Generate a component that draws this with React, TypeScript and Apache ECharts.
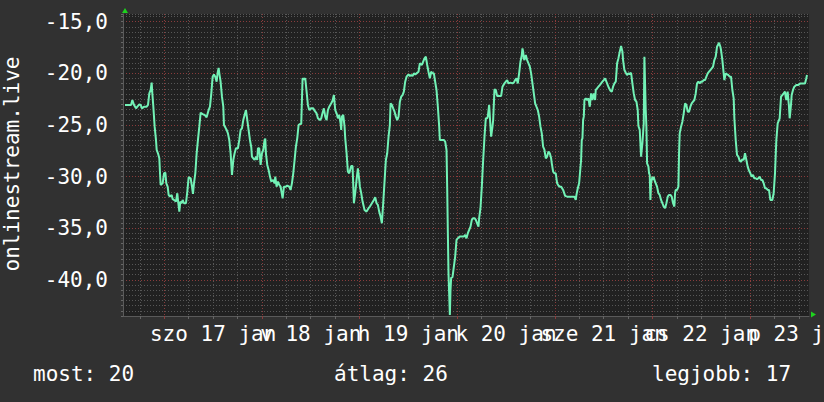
import React, { useEffect, useRef } from 'react';
import * as echarts from 'echarts';

// x = hours since 2015-01-17 00:00, y = level
const readings: [number, number][] = [
  [-9.67,-23.06],[-8.19,-23.06],[-7.86,-22.58],[-7.45,-23.06],[-6.96,-23.39],[-6.63,-23.23],[-6.14,-23.0],[-5.82,-23.06],[-5.49,-23.39],[-5.0,-23.23],[-4.34,-23.23],[-4.01,-23.06],[-3.69,-21.94],[-3.36,-21.61],[-3.11,-20.9],[-2.95,-21.94],[-2.7,-23.23],[-2.38,-25.16],[-2.05,-26.45],[-1.88,-27.42],[-1.56,-27.74],[-1.23,-28.23],[-1.06,-29.68],[-0.9,-30.81],[-0.41,-30.65],[-0.08,-29.68],[0.25,-29.61],[0.49,-30.65],[0.82,-30.97],[1.06,-31.77],[1.39,-31.94],[1.8,-31.77],[2.05,-32.19],[2.38,-32.26],[2.87,-32.42],[3.19,-31.61],[3.44,-32.58],[3.69,-33.39],[3.93,-32.42],[4.26,-32.58],[4.51,-32.26],[4.83,-32.58],[5.32,-32.58],[5.65,-31.45],[5.98,-30.06],[6.47,-30.16],[6.8,-30.97],[7.04,-31.68],[7.29,-30.65],[7.62,-29.68],[7.95,-27.74],[8.27,-26.45],[8.6,-25.16],[8.93,-23.81],[9.42,-23.94],[9.91,-24.03],[10.4,-24.26],[10.89,-23.55],[11.22,-23.23],[11.55,-21.94],[11.88,-20.32],[12.2,-20.1],[12.53,-20.32],[12.86,-20.81],[13.11,-19.94],[13.35,-19.48],[13.52,-20.0],[13.84,-20.81],[14.17,-22.26],[14.5,-23.23],[14.66,-25.0],[14.99,-25.23],[15.32,-25.48],[15.64,-25.81],[15.97,-26.45],[16.3,-27.74],[16.63,-29.84],[16.96,-28.39],[17.28,-27.74],[17.61,-27.26],[18.1,-27.26],[18.43,-26.45],[18.76,-25.48],[19.09,-25.32],[19.41,-24.52],[19.74,-24.03],[20.07,-23.55],[20.4,-24.52],[20.72,-25.48],[21.05,-26.45],[21.38,-27.16],[21.54,-28.06],[21.87,-28.23],[22.2,-28.39],[22.53,-28.06],[22.85,-28.39],[23.02,-27.26],[23.34,-27.26],[23.67,-28.87],[24.0,-27.74],[24.33,-27.42],[24.65,-26.45],[24.82,-26.32],[24.98,-27.74],[25.31,-28.87],[25.64,-29.35],[25.97,-30.0],[26.29,-30.48],[26.78,-30.32],[27.11,-30.65],[27.28,-30.0],[27.6,-30.97],[27.93,-30.48],[28.26,-30.81],[28.59,-30.97],[29.08,-32.1],[29.41,-30.97],[29.9,-30.97],[30.22,-30.87],[30.72,-30.97],[31.04,-31.29],[31.37,-30.65],[31.7,-29.68],[32.03,-28.39],[32.35,-27.1],[32.68,-26.29],[33.01,-25.0],[33.34,-24.9],[33.66,-24.9],[33.99,-20.48],[34.32,-20.58],[34.65,-20.48],[34.98,-21.77],[35.3,-23.06],[35.63,-23.55],[36.12,-23.39],[36.61,-23.39],[36.94,-23.61],[37.43,-23.87],[37.76,-24.35],[38.25,-24.52],[38.58,-24.35],[38.91,-23.81],[39.23,-23.39],[39.56,-24.19],[39.89,-24.52],[40.22,-23.55],[40.55,-23.23],[41.04,-22.9],[41.36,-22.65],[41.69,-22.1],[42.02,-23.55],[42.35,-23.87],[42.68,-24.35],[43.0,-24.03],[43.33,-24.84],[43.49,-25.48],[43.66,-24.19],[43.99,-24.03],[44.31,-25.16],[44.48,-26.29],[44.81,-27.74],[45.13,-29.52],[45.46,-29.68],
  [45.95,-28.97],[46.28,-28.97],[46.61,-32.58],[46.93,-31.61],[47.26,-30.32],[47.59,-29.19],[47.92,-30.32],[48.08,-30.97],[48.41,-31.61],[48.74,-32.42],[49.23,-33.23],[49.72,-33.39],[50.21,-33.06],[50.54,-32.9],[51.03,-32.58],[51.52,-32.26],[51.85,-32.0],[52.18,-32.58],[52.5,-32.74],[52.83,-33.39],[53.16,-33.87],[53.49,-34.52],[53.81,-32.58],[54.14,-30.48],[54.47,-28.39],[54.8,-27.74],[55.13,-26.13],[55.45,-25.0],[55.62,-22.9],[55.94,-23.06],[56.27,-23.39],[56.6,-23.71],[56.93,-24.19],[57.26,-24.52],[57.58,-24.19],[57.91,-22.74],[58.24,-22.26],[58.57,-22.1],[58.89,-21.77],[59.22,-20.81],[59.55,-20.32],[60.04,-20.1],[60.37,-20.26],[60.7,-20.16],[61.02,-20.26],[61.35,-20.0],[61.68,-20.1],[62.01,-20.0],[62.5,-19.84],[62.82,-19.03],[63.32,-19.19],[63.64,-18.87],[63.97,-18.55],[64.3,-18.39],[64.63,-19.19],[64.95,-19.84],[65.28,-20.48],[65.61,-19.84],[65.94,-20.0],[66.27,-20.0],[66.59,-20.81],[66.92,-21.61],[67.25,-23.23],[67.58,-25.16],[67.74,-26.45],[68.23,-26.45],[68.72,-26.45],[69.05,-26.61],[69.38,-27.42],[69.54,-30.97],[69.71,-35.48],[69.87,-39.42],[70.03,-41.29],[70.2,-43.39],[70.36,-40.97],[70.52,-39.81],[70.85,-39.74],[71.18,-38.74],[71.51,-37.74],[71.84,-36.13],[72.16,-35.97],[72.65,-35.81],[73.15,-35.81],[73.64,-35.81],[73.96,-35.65],[74.29,-35.97],[74.62,-35.48],[74.95,-35.16],[75.28,-34.84],[75.6,-34.19],[75.93,-34.03],[76.26,-34.03],[76.59,-34.19],[76.91,-34.52],[77.24,-34.84],[77.4,-34.03],[77.73,-33.06],[78.06,-30.97],[78.39,-28.39],[78.72,-26.13],[79.04,-24.35],[79.37,-24.35],[79.53,-24.19],[79.86,-23.06],[80.19,-25.16],[80.35,-26.13],[80.68,-25.16],[80.85,-24.52],[81.17,-21.55],[81.5,-21.61],[81.83,-22.19],[82.32,-22.19],[82.81,-22.19],[83.14,-21.29],[83.63,-20.97],[83.96,-20.81],[84.29,-20.65],[84.61,-20.97],[85.1,-20.9],[85.6,-20.97],[85.92,-20.9],[86.25,-20.65],[86.58,-20.48],[86.91,-20.97],[87.23,-20.0],[87.56,-18.87],[87.89,-18.23],[88.05,-17.58],[88.22,-17.9],[88.38,-18.55],[88.54,-18.71],[88.87,-18.23],[89.2,-18.71],[89.53,-19.03],[89.86,-19.35],[90.18,-20.0],[90.51,-20.97],[90.84,-21.94],[91.17,-22.9],[91.49,-23.23],[91.82,-23.55],[92.15,-24.19],[92.48,-25.16],[92.8,-25.81],[93.13,-27.1],[93.46,-27.42],[93.79,-28.23],[94.11,-28.06],[94.44,-27.58],[94.77,-27.74],[95.1,-28.23],[95.26,-28.71],[95.59,-29.52],[95.92,-29.68],[96.24,-29.68],[96.57,-30.65],[96.9,-30.87],[97.23,-30.97],[97.55,-30.97],[98.05,-31.29],[98.54,-31.87],[99.03,-31.94],[99.68,-31.94],[100.34,-31.94],[100.83,-31.94],[101.16,-32.26],[101.32,-31.77],[101.65,-31.13],[101.98,-30.65],
  [102.47,-28.39],[102.63,-26.45],[102.8,-26.29],[102.96,-24.52],[103.13,-24.19],[103.29,-22.58],[103.62,-22.42],[103.95,-22.58],[104.27,-22.42],[104.6,-23.23],[104.93,-21.94],[105.25,-22.58],[105.58,-21.94],[105.91,-22.58],[106.07,-21.61],[106.4,-21.45],[106.73,-21.29],[107.06,-21.13],[107.38,-20.97],[107.71,-20.81],[108.04,-20.65],[108.37,-20.48],[108.69,-20.81],[109.02,-21.13],[109.35,-21.45],[109.68,-21.68],[110.01,-21.77],[110.33,-21.29],[110.66,-20.97],[110.99,-20.81],[111.15,-20.0],[111.32,-19.03],[111.64,-18.55],[111.97,-17.9],[112.3,-17.35],[112.63,-17.9],[112.79,-18.71],[113.12,-19.68],[113.45,-19.94],[113.77,-20.16],[114.1,-20.0],[114.43,-20.06],[114.76,-19.94],[115.08,-20.97],[115.41,-21.94],[115.74,-22.58],[116.07,-22.74],[116.39,-23.55],[116.56,-25.1],[116.89,-25.48],[117.05,-26.77],[117.21,-28.06],[117.38,-28.06],[117.54,-26.77],[117.87,-24.84],[118.03,-18.39],[118.2,-18.39],[118.36,-23.55],[118.52,-25.16],[118.69,-28.71],[119.02,-29.03],[119.18,-29.68],[119.34,-29.84],[119.51,-32.26],[119.67,-30.65],[120.0,-30.0],[120.16,-30.32],[120.33,-30.0],[120.49,-30.32],[120.82,-30.65],[121.14,-30.97],[121.47,-31.61],[121.8,-31.77],[122.13,-32.26],[122.46,-32.58],[122.78,-32.9],[123.11,-33.06],[123.44,-32.58],[123.77,-31.94],[124.09,-31.77],[124.42,-31.77],[124.75,-31.94],[125.08,-32.58],[125.4,-32.9],[125.57,-31.61],[125.73,-31.29],[126.06,-31.29],[126.39,-30.97],[126.55,-27.74],[126.71,-25.81],[127.04,-25.16],[127.37,-24.68],[127.7,-23.87],[128.03,-22.9],[128.35,-23.06],[128.68,-23.71],[129.01,-23.71],[129.34,-23.23],[129.66,-22.9],[129.99,-22.74],[130.32,-22.58],[130.65,-21.94],[130.97,-20.97],[131.3,-20.81],[131.63,-20.97],[131.96,-20.81],[132.28,-20.81],[132.61,-20.65],[132.94,-20.65],[133.27,-20.32],[133.6,-20.0],[133.92,-19.84],[134.25,-19.68],[134.58,-19.52],[134.91,-19.35],[135.23,-18.71],[135.56,-18.39],[135.89,-17.42],[136.38,-17.03],[136.71,-17.42],[136.87,-17.74],[137.2,-18.71],[137.36,-19.35],[137.69,-20.65],[138.02,-20.0],[138.35,-20.1],[138.67,-20.16],[139.0,-20.32],[139.33,-20.32],[139.66,-21.61],[139.98,-22.42],[140.15,-24.35],[140.48,-26.45],[140.8,-27.9],[141.13,-28.06],[141.46,-28.45],[141.79,-28.55],[142.11,-28.32],[142.44,-28.39],[142.77,-27.74],[143.1,-28.39],[143.42,-29.03],[143.75,-29.42],[144.08,-29.68],[144.41,-30.0],[144.74,-29.84],[145.06,-30.16],[145.39,-30.16],[145.72,-30.26],[146.05,-30.16],[146.37,-30.0],[146.7,-30.32],[147.03,-30.32],[147.36,-30.65],[147.68,-31.13],[148.01,-31.13],[148.34,-31.29],[148.67,-31.29],[148.99,-32.26],[149.49,-32.26],[149.81,-31.61],[150.14,-29.68],[150.47,-26.45],[150.8,-24.84],[151.29,-24.35],[151.62,-22.26],[151.94,-22.1],[152.27,-21.94],[152.6,-21.77],[152.76,-22.26],[152.93,-22.58],[153.25,-21.77],[153.58,-23.23],[153.75,-24.35],[153.91,-24.35],[154.07,-23.06],[154.24,-22.1],[154.57,-21.61],[154.89,-21.29],[155.38,-21.13],[155.88,-21.13],[156.37,-20.97],[156.7,-20.97],[157.02,-20.97],[157.52,-20.97],[157.84,-20.48],[158.01,-20.16]
];

const dayLabels = ['szo 17 jan', 'v 18 jan', 'h 19 jan', 'k 20 jan', 'sze 21 jan', 'cs 22 jan', 'p 23 jan'];
const labelHours = [12, 36, 60, 84, 108, 132, 156];
const midnightHours = [0, 24, 48, 72, 96, 120, 144];
const sixHourMarks = [-6, 6, 12, 18, 30, 36, 42, 54, 60, 66, 78, 84, 90, 102, 108, 114, 126, 132, 138, 150, 156];
const majorYTicks = [-40, -35, -30, -25, -20, -15];
const yTitle = 'onlinestream.live';
const summaryLabels = ['most: 20', 'átlag: 26', 'legjobb: 17'];

const X_MIN = -10.16;
const X_MAX = 158.5;
const Y_MIN = -43.5;
const Y_MAX = -14.25;

const FONT = "'DejaVu Sans Mono', monospace";
const TEXT = '#ffffff';
const MINOR = '#575757';
const MAJOR = '#8a3c3c';
const LINE = '#72f2b6';
const ARROW = '#1ed21e';

// labels split over two axes (alternate days) so the library does not drop overlapping ones
const evenDayHours = labelHours.filter((_, i) => i % 2 === 0);
const oddDayHours = labelHours.filter((_, i) => i % 2 === 1);
const dayLabelFor = (v: number) => {
  const i = labelHours.findIndex((h) => Math.abs(h - v) < 1e-6);
  return i >= 0 ? dayLabels[i] : '';
};

export default function App() {
  const ref = useRef<HTMLDivElement>(null);
  useEffect(() => {
    if (!ref.current) return;
    const chart = echarts.init(ref.current, undefined, { renderer: 'svg' });
    const summaryX = [33, 334, 652];
    const xLabel = (values: number[]) => ({
      show: true, customValues: values, color: TEXT, fontSize: 21, fontFamily: FONT, margin: 7,
      showMinLabel: true, showMaxLabel: true, hideOverlap: false, formatter: dayLabelFor,
    });
    chart.setOption({
      animation: false,
      backgroundColor: '#313131',
      textStyle: { fontFamily: FONT },
      grid: {
        left: 123, top: 14, width: 686, height: 302, show: true, backgroundColor: '#212121', borderWidth: 0,
        containLabel: false, outerBoundsMode: 'none',
      },
      xAxis: [
        {
          type: 'value', min: X_MIN, max: X_MAX, position: 'bottom',
          axisLine: { show: true, onZero: false, lineStyle: { color: '#5a5a5a', width: 1 } },
          axisTick: { show: true, customValues: sixHourMarks, length: 3, lineStyle: { color: '#666' } },
          axisLabel: xLabel(evenDayHours),
          splitLine: { show: true, lineStyle: { color: MINOR, width: 1, type: [1, 2] } },
        },
        {
          type: 'value', min: X_MIN, max: X_MAX, position: 'bottom', offset: 0,
          axisLine: { show: false, onZero: false },
          axisTick: { show: true, customValues: midnightHours, length: 3, lineStyle: { color: MAJOR } },
          axisLabel: xLabel(oddDayHours),
          splitLine: { show: true, lineStyle: { color: MAJOR, width: 1, type: [1, 2] } },
        },
      ],
      yAxis: [
        {
          type: 'value', min: Y_MIN, max: Y_MAX, interval: 0.5, position: 'left',
          axisLine: { show: true, onZero: false, lineStyle: { color: '#5a5a5a', width: 1 } },
          axisTick: { show: true, length: 2, lineStyle: { color: '#666' } },
          axisLabel: {
            color: TEXT, fontSize: 21, fontFamily: FONT, margin: 15,
            formatter: (v: number) => (Math.abs(v % 5) < 1e-9 ? v.toFixed(1).replace('.', ',') : ''),
          },
          splitLine: { show: true, lineStyle: { color: MINOR, width: 1, type: [1, 2] } },
        },
        {
          type: 'value', min: Y_MIN, max: Y_MAX, position: 'left',
          axisLine: { show: false, onZero: false },
          axisTick: { show: false, customValues: majorYTicks },
          axisLabel: { show: false },
          splitLine: { show: true, lineStyle: { color: MAJOR, width: 1, type: [1, 2] } },
        },
      ],
      series: [
        {
          type: 'line', xAxisIndex: 0, yAxisIndex: 0, data: readings, showSymbol: false,
          lineStyle: { color: LINE, width: 2 }, z: 10, silent: true,
        },
      ],
      graphic: [
        {
          type: 'text', x: 12, y: 164, rotation: Math.PI / 2,
          style: { text: yTitle, fill: TEXT, font: `21px ${FONT}`, align: 'center', verticalAlign: 'middle' },
        },
        ...summaryLabels.map((t, i) => ({
          type: 'text', x: summaryX[i], y: 374,
          style: { text: t, fill: TEXT, font: `21px ${FONT}`, align: 'left', verticalAlign: 'middle' },
        })),
        { type: 'polygon', shape: { points: [[122, 13], [128, 13], [125, 8]] }, style: { fill: ARROW } },
        { type: 'polygon', shape: { points: [[811, 311.5], [811, 317.5], [816, 314.5]] }, style: { fill: ARROW } },
      ],
    });
    return () => chart.dispose();
  }, []);
  return <div ref={ref} style={{ position: 'fixed', left: 0, top: 0, width: 824, height: 402 }} />;
}
